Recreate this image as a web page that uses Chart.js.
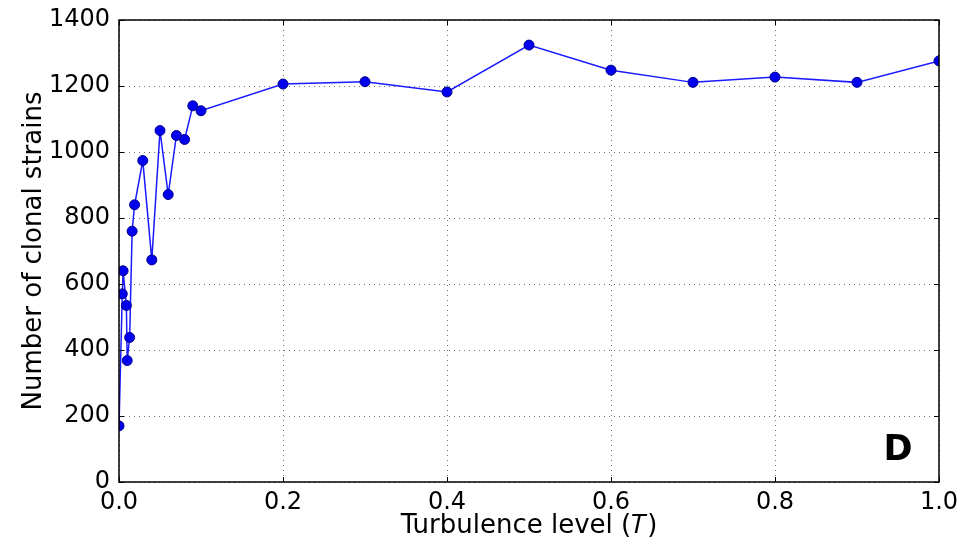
<!DOCTYPE html>
<html>
<head>
<meta charset="utf-8">
<script src="https://cdn.jsdelivr.net/npm/chart.js@4.4.0/dist/chart.umd.min.js"></script>
<style>
  html, body { margin: 0; padding: 0; background: #fff; }
  #wrap { width: 973px; height: 542px; position: relative; }
</style>
</head>
<body>
<div id="wrap"><canvas id="strainChart"></canvas></div>
<script>
// turbulence levels (T) and number of clonal strains
var turbulence = [0, 0.004, 0.005, 0.009, 0.01, 0.013, 0.016, 0.019, 0.029, 0.04,
                  0.05, 0.06, 0.07, 0.08, 0.09, 0.1, 0.2, 0.3, 0.4, 0.5,
                  0.6, 0.7, 0.8, 0.9, 1.0];
var strains = [170, 570, 640, 535, 368, 438, 760, 840, 974, 673,
               1065, 871, 1050, 1038, 1140, 1125, 1206, 1213, 1182, 1324,
               1248, 1211, 1227, 1211, 1276];
var xTicks = [0, 0.2, 0.4, 0.6, 0.8, 1.0];
var yTicks = [0, 200, 400, 600, 800, 1000, 1200, 1400];
var panelLabel = "D";

var fontFam = "'DejaVu Sans', sans-serif";

var pts = [];
for (let i = 0; i < turbulence.length; i++) {
    pts.push({x: turbulence[i], y: strains[i]});
}

// box round the axes, inward ticks, and the panel letter
var frame = {
    id: 'frame',
    afterDraw(chart) {
        var ctx = chart.ctx;
        var a = chart.chartArea;
        var sx = chart.scales.x, sy = chart.scales.y;
        ctx.save();
        ctx.strokeStyle = '#000';
        ctx.lineWidth = 1.5;
        ctx.strokeRect(a.left, a.top, a.right - a.left, a.bottom - a.top);
        ctx.lineWidth = 1;
        xTicks.forEach(function (t) {
            var px = Math.round(sx.getPixelForValue(t)) + 0.5;
            ctx.beginPath();
            ctx.moveTo(px, a.bottom); ctx.lineTo(px, a.bottom - 5);
            ctx.moveTo(px, a.top); ctx.lineTo(px, a.top + 5);
            ctx.stroke();
        });
        yTicks.forEach(function (t) {
            var py = Math.round(sy.getPixelForValue(t)) + 0.5;
            ctx.beginPath();
            ctx.moveTo(a.left, py); ctx.lineTo(a.left + 5, py);
            ctx.moveTo(a.right, py); ctx.lineTo(a.right - 5, py);
            ctx.stroke();
        });
        ctx.fillStyle = '#000';
        ctx.font = "bold 35px " + fontFam;
        ctx.textAlign = 'center';
        ctx.textBaseline = 'middle';
        ctx.fillText(panelLabel, a.right - 41, a.bottom - 31);
        ctx.restore();
    }
};

var config = {
    type: 'line',
    data: {
        datasets: [{
            label: 'strains',
            data: pts,
            borderColor: '#1a1aff',
            backgroundColor: '#0000ee',
            pointBorderColor: '#00008b',
            pointBorderWidth: 1,
            borderWidth: 1.5,
            pointRadius: 5,
            pointHoverRadius: 5,
            tension: 0,
            clip: {left: 0, right: 0, top: 10, bottom: 10}
        }]
    },
    options: {
        responsive: true,
        maintainAspectRatio: false,
        animation: false,
        events: [],
        layout: { padding: { left: 0, right: 34, top: 20, bottom: 0 } },
        plugins: {
            legend: { display: false },
            tooltip: { enabled: false }
        },
        scales: {
            x: {
                type: 'linear',
                min: 0,
                max: 1,
                afterFit: function (s) { s.height = 60; s.paddingLeft = 0; s.paddingRight = 0; },
                afterBuildTicks: function (s) { s.ticks = xTicks.map(v => ({value: v})); },
                ticks: {
                    color: '#000',
                    font: { family: fontFam, size: 24 },
                    padding: 6,
                    maxRotation: 0,
                    callback: function (v) { return v.toFixed(1); }
                },
                grid: {
                    color: 'rgba(0,0,0,0.55)',
                    lineWidth: 1,
                    drawTicks: false
                },
                border: { display: false, dash: [1, 4] },
                title: {
                    display: true,
                    text: 'Turbulence level (𝑇)',
                    color: '#000',
                    font: { family: fontFam, size: 26 },
                    padding: { top: 0, bottom: 0 }
                }
            },
            y: {
                min: 0,
                max: 1400,
                afterFit: function (s) { s.width = 119; s.paddingTop = 0; s.paddingBottom = 0; },
                afterBuildTicks: function (s) { s.ticks = yTicks.map(v => ({value: v})); },
                ticks: {
                    color: '#000',
                    font: { family: fontFam, size: 24 },
                    padding: 9,
                    callback: function (v) { return String(v); }
                },
                grid: {
                    color: 'rgba(0,0,0,0.55)',
                    lineWidth: 1,
                    drawTicks: false
                },
                border: { display: false, dash: [1, 4] },
                title: {
                    display: true,
                    text: 'Number of clonal strains',
                    color: '#000',
                    font: { family: fontFam, size: 26 },
                    padding: { top: 19, bottom: 0 }
                }
            }
        }
    },
    plugins: [frame]
};

var strainChart = new Chart(document.getElementById('strainChart'), config);
</script>
</body>
</html>
